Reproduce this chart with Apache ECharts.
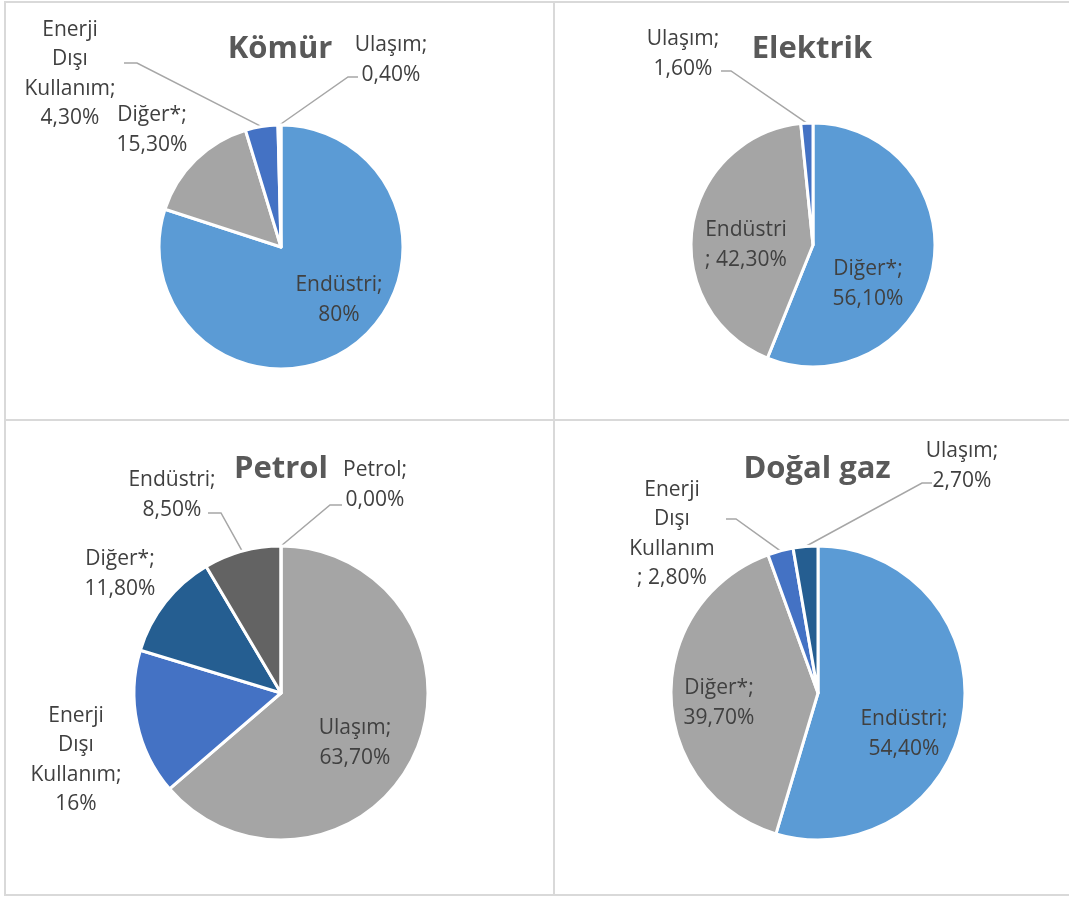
<!DOCTYPE html>
<html>
<head>
<meta charset="utf-8">
<script src="https://cdn.jsdelivr.net/npm/echarts@6/dist/echarts.min.js"></script>
<style>
  html, body { margin: 0; padding: 0; background: #fff; }
  #main { width: 1069px; height: 898px; }
</style>
</head>
<body>
<div id="main"></div>
<script>
// ---------- DATA ----------
const komurTitle = 'Kömür';
const komurCategories = ['Endüstri', 'Diğer*', 'Enerji Dışı Kullanım', 'Ulaşım'];
const komurValues = [80, 15.3, 4.3, 0.4];
const komurLabels = ['Endüstri;\n80%', 'Diğer*;\n15,30%', 'Enerji\nDışı\nKullanım;\n4,30%', 'Ulaşım;\n0,40%'];

const elektrikTitle = 'Elektrik';
const elektrikCategories = ['Diğer*', 'Endüstri', 'Ulaşım'];
const elektrikValues = [56.1, 42.3, 1.6];
const elektrikLabels = ['Diğer*;\n56,10%', 'Endüstri\n; 42,30%', 'Ulaşım;\n1,60%'];

const petrolTitle = 'Petrol';
const petrolCategories = ['Ulaşım', 'Enerji Dışı Kullanım', 'Diğer*', 'Endüstri', 'Petrol'];
const petrolValues = [63.7, 16, 11.8, 8.5, 0];
const petrolLabels = ['Ulaşım;\n63,70%', 'Enerji\nDışı\nKullanım;\n16%', 'Diğer*;\n11,80%', 'Endüstri;\n8,50%', 'Petrol;\n0,00%'];

const dogalgazTitle = 'Doğal gaz';
const dogalgazCategories = ['Endüstri', 'Diğer*', 'Enerji Dışı Kullanım', 'Ulaşım'];
const dogalgazValues = [54.4, 39.7, 2.8, 2.7];
const dogalgazLabels = ['Endüstri;\n54,40%', 'Diğer*;\n39,70%', 'Enerji\nDışı\nKullanım\n; 2,80%', 'Ulaşım;\n2,70%'];

// ---------- STYLE / LAYOUT ----------
const LIGHTBLUE = '#5B9BD5', GRAY = '#A5A5A5', BLUE = '#4472C4', DARKBLUE = '#255E91', DARKGRAY = '#636363';
const FONT = '"Open Sans", "Noto Sans", sans-serif';
const LABEL_DY = 3;

// label offsets and leader-line end / elbow offsets are relative to each pie centre
const panels = [
  { title: komurTitle, cats: komurCategories, vals: komurValues, labels: komurLabels,
    colors: [LIGHTBLUE, GRAY, BLUE, DARKBLUE],
    center: [281, 247], r: 122, titlePos: [280, 49],
    labelOff: [[58, 50], [-129, -120], [-211, -176], [110, -190]],
    lineEnd: [null, null, [[-144, -184], [-157, -184]], [[67, -170], [77, -170]]] },
  { title: elektrikTitle, cats: elektrikCategories, vals: elektrikValues, labels: elektrikLabels,
    colors: [LIGHTBLUE, GRAY, BLUE],
    center: [813, 245], r: 122, titlePos: [812, 49],
    labelOff: [[55, 36], [-67, -3], [-130, -194]],
    lineEnd: [null, null, [[-82, -174], [-92, -174]]] },
  { title: petrolTitle, cats: petrolCategories, vals: petrolValues, labels: petrolLabels,
    colors: [GRAY, BLUE, DARKBLUE, DARKGRAY, LIGHTBLUE],
    center: [281, 693], r: 147, titlePos: [281, 469],
    labelOff: [[74, 47], [-205, 64], [-161, -122], [-109, -201], [94, -211]],
    lineEnd: [null, null, null, [[-60, -180], [-73, -180]], [[49, -188], [61, -188]]] },
  { title: dogalgazTitle, cats: dogalgazCategories, vals: dogalgazValues, labels: dogalgazLabels,
    colors: [LIGHTBLUE, GRAY, BLUE, DARKBLUE],
    center: [818, 693], r: 147, titlePos: [817, 469],
    labelOff: [[86, 38], [-99, 7], [-146, -162], [144, -230]],
    lineEnd: [null, null, [[-82, -174], [-92, -174]], [[104, -210], [114, -210]]] }
];

const chart = echarts.init(document.getElementById('main'), null, { renderer: 'canvas' });

const series = panels.map(function (p) {
  const total = p.vals.reduce(function (a, b) { return a + b; }, 0);
  return {
    type: 'pie',
    center: p.center,
    radius: p.r,
    startAngle: 90,
    clockwise: true,
    avoidLabelOverlap: false,
    silent: true,
    animation: false,
    itemStyle: { borderColor: '#ffffff', borderWidth: 3 },
    label: {
      show: true,
      fontFamily: FONT,
      fontSize: 21,
      lineHeight: 29.5,
      color: '#404040',
      formatter: function (params) { return p.labels[params.dataIndex]; }
    },
    labelLine: { show: true, length: 10, length2: 10, lineStyle: { color: '#A6A6A6', width: 1.5 } },
    labelLayout: function (params) {
      const i = params.dataIndex;
      const o = p.labelOff[i];
      const res = { x: p.center[0] + o[0], y: p.center[1] + o[1] + LABEL_DY, align: 'center', verticalAlign: 'middle' };
      const le = p.lineEnd[i];
      if (le) {
        let start;
        if (params.labelLinePoints && params.labelLinePoints[0]) {
          start = params.labelLinePoints[0];
        } else {
          // start on the slice edge at its middle angle
          let before = 0;
          for (let k = 0; k < i; k++) before += p.vals[k];
          const frac = (before + p.vals[i] / 2) / total;
          const a = frac * 2 * Math.PI;
          start = [p.center[0] + p.r * Math.sin(a), p.center[1] - p.r * Math.cos(a)];
        }
        res.labelLinePoints = [
          start,
          [p.center[0] + le[0][0], p.center[1] + le[0][1]],
          [p.center[0] + le[1][0], p.center[1] + le[1][1]]
        ];
      }
      return res;
    },
    data: p.cats.map(function (c, i) {
      return {
        name: c,
        value: p.vals[i],
        itemStyle: { color: p.colors[i] },
        label: { position: p.lineEnd[i] ? 'outside' : 'inside' },
        labelLine: { show: !!p.lineEnd[i] }
      };
    })
  };
});

const graphics = [];
// panel borders
const BORDER = '#D9D9D9';
[[5, 1, 5, 896], [4, 2, 1069, 2], [554, 1, 554, 896], [4, 420, 1069, 420], [4, 895, 1069, 895]].forEach(function (l) {
  graphics.push({ type: 'line', silent: true, shape: { x1: l[0], y1: l[1], x2: l[2], y2: l[3] }, style: { stroke: BORDER, lineWidth: 2 } });
});
panels.forEach(function (p) {
  graphics.push({
    type: 'text', silent: true, x: p.titlePos[0], y: p.titlePos[1],
    style: { text: p.title, font: 'bold 31px ' + FONT, fill: '#595959', align: 'center', verticalAlign: 'middle' }
  });
});

chart.setOption({
  backgroundColor: '#ffffff',
  animation: false,
  graphic: graphics,
  series: series
});
</script>
</body>
</html>
